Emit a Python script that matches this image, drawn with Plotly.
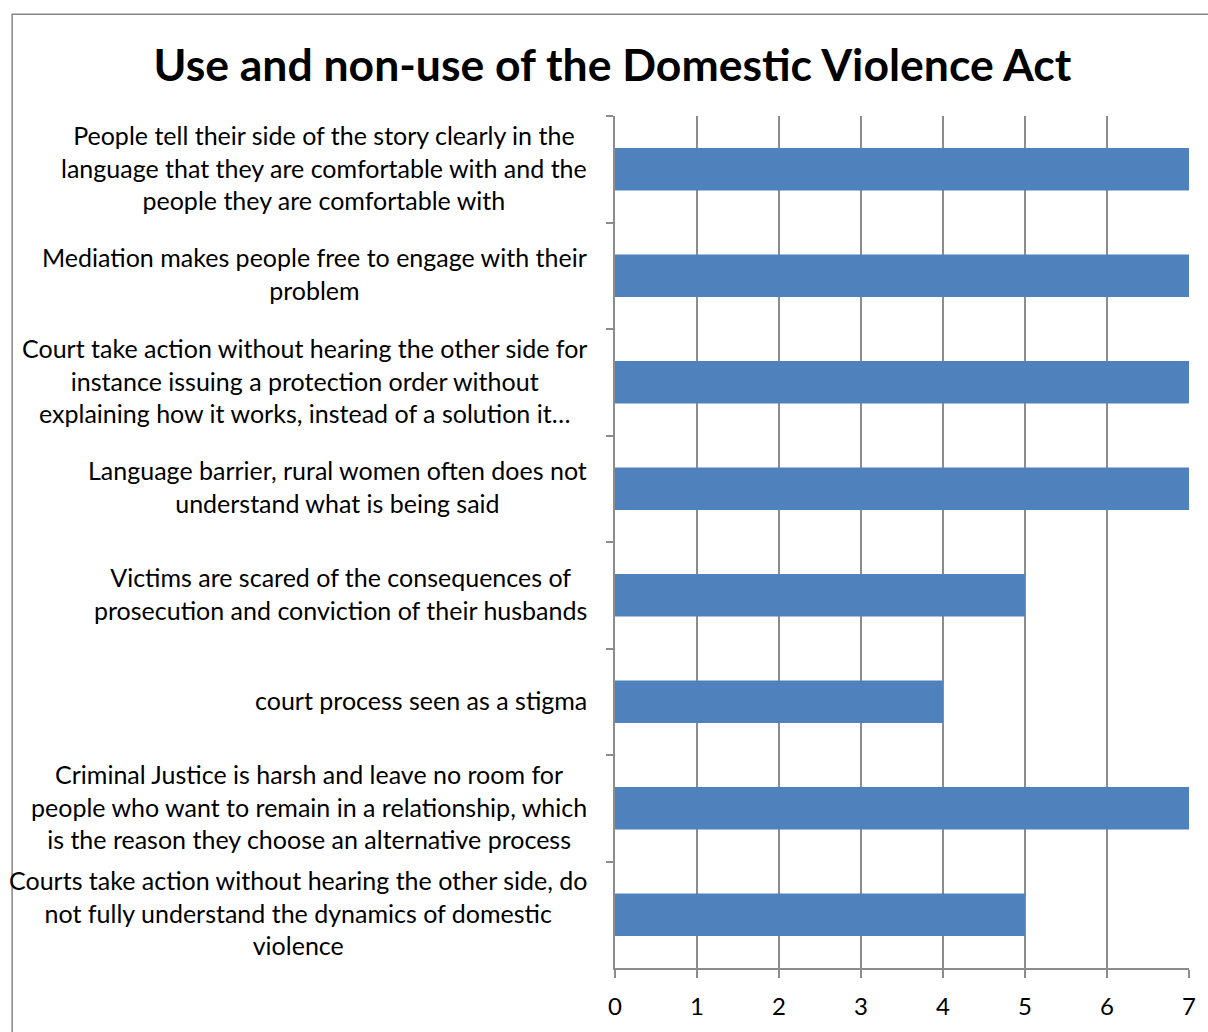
import plotly.graph_objects as go

# Survey statements (top to bottom) and number of respondents
statements = [
    "People tell their side of the story clearly in the<br>language that they are comfortable with and the<br>people they are comfortable with",
    "Mediation makes people free to engage with their<br>problem",
    "Court take action without hearing the other side for<br>instance issuing a protection order without<br>explaining how it works, instead of a solution it…",
    "Language barrier, rural women often does not<br>understand what is being said",
    "Victims are scared of the consequences of<br>prosecution and conviction of their husbands",
    "court process seen as a stigma",
    "Criminal Justice is harsh and leave no room for<br>people who want to remain in a relationship, which<br>is the reason they choose an alternative process",
    "Courts take action without hearing the other side, do<br>not fully understand the dynamics of domestic<br>violence",
]
counts = [7, 7, 7, 7, 5, 4, 7, 5]
x_ticks = [0, 1, 2, 3, 4, 5, 6, 7]

FONT = "Lato"
GRID = "#8c8c8c"
BAR = "#4f81bd"

cat_ids = [f"s{i}" for i in range(len(statements))]

fig = go.Figure(
    go.Bar(
        x=counts,
        y=cat_ids,
        orientation="h",
        marker=dict(color=BAR, line=dict(width=0)),
        width=0.4,
    )
)

# Category labels: right-aligned blocks with centered lines
for cid, text in zip(cat_ids, statements):
    fig.add_annotation(
        x=-0.045, xref="paper", y=cid, yref="y",
        text=text, showarrow=False, xanchor="right", yanchor="middle",
        align="center", yshift=2,
        font=dict(family=FONT, size=25, color="#000000"),
    )

# Outer chart border
fig.add_shape(
    type="rect", xref="paper", yref="paper",
    x0=-1.0503, x1=1.04, y0=-0.09, y1=1.1194,
    line=dict(color="#868686", width=1.5), fillcolor="rgba(0,0,0,0)",
    layer="below",
)

fig.update_layout(
    width=1208, height=1032,
    margin=dict(l=615, r=16, t=116, b=62),
    paper_bgcolor="white", plot_bgcolor="white",
    showlegend=False,
    title=dict(
        text="<b>Use and non-use of the Domestic Violence Act</b>",
        x=0.507, xanchor="center", y=0.937, yanchor="middle",
        font=dict(family=FONT, size=44.5, color="#000000"),
    ),
    font=dict(family=FONT, color="#000000"),
)

fig.update_xaxes(
    range=[0, 7], tickvals=x_ticks, ticktext=[str(v) for v in x_ticks],
    showgrid=True, gridcolor=GRID, gridwidth=1.5,
    showline=True, linecolor=GRID, linewidth=1.5,
    ticks="outside", ticklen=8, tickcolor=GRID, tickwidth=1.5,
    ticklabelstandoff=8,
    tickfont=dict(family=FONT, size=24, color="#000000"),
    zeroline=False, fixedrange=True,
)
fig.update_yaxes(
    categoryorder="array", categoryarray=cat_ids, autorange="reversed",
    showticklabels=False, showgrid=False, zeroline=False,
    showline=True, linecolor=GRID, linewidth=1.5,
    ticks="outside", tickson="boundaries", ticklen=7, tickcolor=GRID, tickwidth=1.5,
    fixedrange=True,
)

fig.write_html("out.html")
